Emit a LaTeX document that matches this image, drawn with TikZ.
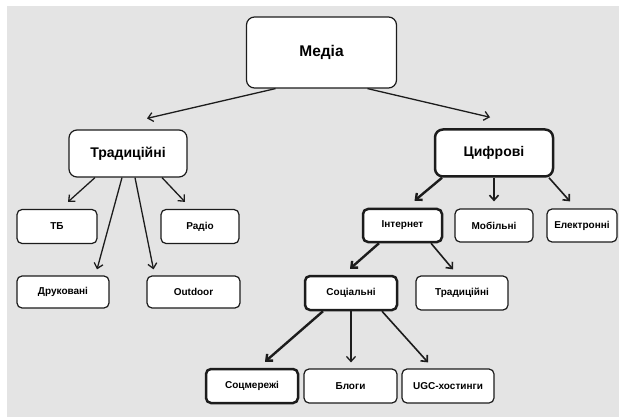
\documentclass[tikz,border=0pt]{standalone}
\usepackage{fontspec}
\setmainfont{Liberation Sans}
\usetikzlibrary{arrows.meta}
\definecolor{bggray}{HTML}{E4E4E4}
\definecolor{edge}{HTML}{1C1C1C}
\begin{document}
\begin{tikzpicture}[x=1pt,y=-1pt,
        base/.style={draw=edge,fill=white,rounded corners=5pt,line width=1.2pt,
            font=\bfseries\fontsize{10}{12}\selectfont,inner sep=0pt,
            minimum width=92pt,minimum height=34pt},
        big/.style={base,rounded corners=8pt,font=\bfseries\fontsize{14}{16}\selectfont,
            minimum width=118pt,minimum height=47pt},
        heavy/.style={line width=2.5pt},
        arr/.style={draw=edge,line width=1.3pt,-{Straight Barb[length=5pt,width=9pt]}},
        arrthick/.style={arr,line width=2.4pt}]
        % background with white margin on top and left
        \fill[white] (0,0) rectangle (619,417);
        \fill[bggray] (7,6) rectangle (619,417);

        % top node and the two main branches
        \node[big,minimum width=150pt,minimum height=71pt,font=\bfseries\fontsize{15.5}{18}\selectfont] (m0) at (321.5,52.5) {Медіа};
        \node[big] (t0) at (128,153.5) {Традиційні};
        \node[big,heavy] (d0) at (494,153) {Цифрові};

        % traditional media
        \node[base,minimum width=80pt] (t1) at (57,226.5) {ТБ};
        \node[base,minimum width=78pt] (t2) at (200,226.5) {Радіо};
        \node[base,minimum height=32pt] (t3) at (63,292) {Друковані};
        \node[base,minimum width=93pt,minimum height=32pt] (t4) at (193.5,292) {Outdoor};

        % digital media
        \node[base,heavy,minimum width=79pt,minimum height=33pt] (d1) at (402.5,225.5) {Інтернет};
        \node[base,minimum width=78pt,minimum height=33pt] (d2) at (494,225.5) {Мобільні};
        \node[base,minimum width=70pt,minimum height=33pt] (d3) at (582,225.5) {Електронні};

        % internet and below
        \node[base,heavy] (s0) at (351,293) {Соціальні};
        \node[base] (s1) at (462,293) {Традиційні};
        \node[base,heavy] (n1) at (252,386) {Соцмережі};
        \node[base,minimum width=93pt] (n2) at (350.5,386) {Блоги};
        \node[base] (n3) at (448,386) {UGC-хостинги};

        % connectors
        \draw[arr] ([xshift=-46pt]m0.south) -- ([xshift=19pt,yshift=11pt]t0.north);
        \draw[arr] ([xshift=46pt]m0.south) -- ([xshift=-4pt,yshift=11pt]d0.north);

        \draw[arr] ([xshift=-33pt]t0.south) -- ([xshift=11pt,yshift=7pt]t1.north);
        \draw[arr] ([xshift=34pt]t0.south) -- ([xshift=-15pt,yshift=7pt]t2.north);
        \draw[arr] ([xshift=-6pt]t0.south) -- ([xshift=34pt,yshift=6pt]t3.north);
        \draw[arr] ([xshift=7pt]t0.south) -- ([xshift=-40pt,yshift=6pt]t4.north);

        \draw[arrthick] ([xshift=-52pt]d0.south) -- ([xshift=12pt,yshift=7pt]d1.north);
        \draw[arr,line width=1.6pt] (d0.south) -- ([yshift=7pt]d2.north);
        \draw[arr,line width=1.6pt] ([xshift=55pt]d0.south) -- ([xshift=-12pt,yshift=7pt]d3.north);

        \draw[arrthick] ([xshift=-23.5pt]d1.south) -- ([xshift=-1pt,yshift=6pt]s0.north);
        \draw[arr,line width=1.6pt] ([xshift=28.5pt]d1.south) -- ([xshift=-9pt,yshift=6pt]s1.north);

        \draw[arrthick] ([xshift=-28pt]s0.south) -- ([xshift=13pt,yshift=6pt]n1.north);
        \draw[arr] (s0.south) -- ([xshift=0.5pt,yshift=6pt]n2.north);
        \draw[arr,line width=1.6pt] ([xshift=31pt]s0.south) -- ([xshift=-20pt,yshift=6pt]n3.north);
    \end{tikzpicture}
\end{document}
